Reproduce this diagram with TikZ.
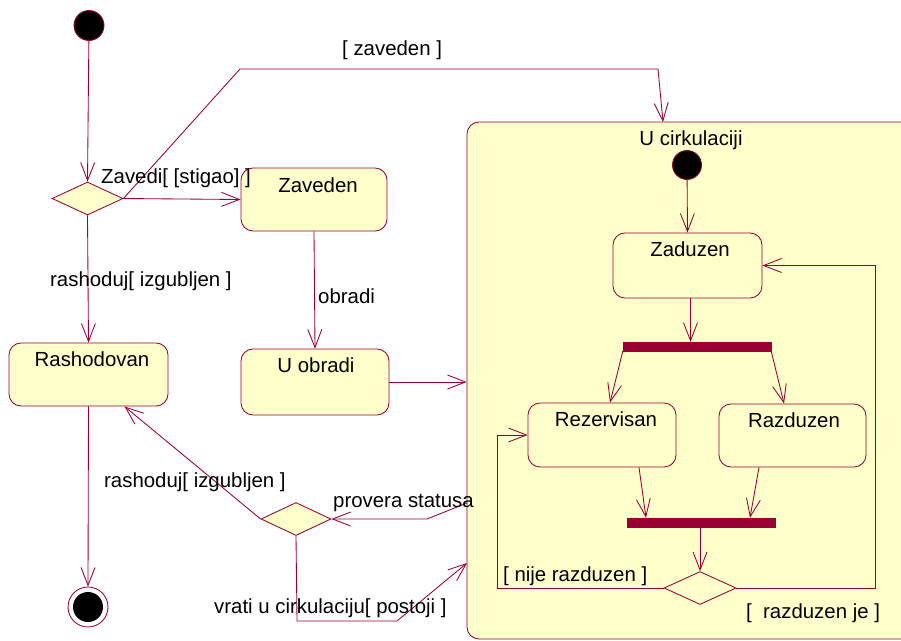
\documentclass[tikz,border=0pt]{standalone}
\usepackage{fontspec}
\setmainfont{Liberation Sans}
\usetikzlibrary{arrows.meta,shapes.geometric,calc}
\definecolor{umlred}{RGB}{153,0,51}
\definecolor{umlfill}{RGB}{255,255,204}
\newcommand{\umlfont}{\fontsize{20.4}{23}\selectfont}
\tikzset{
  uml/.style={draw=umlred, line width=0.85pt},
  statebox/.style={uml, fill=umlfill, rounded corners=12pt, inner sep=0pt},
  choice/.style={uml, fill=umlfill, diamond, inner sep=0pt, minimum width=71pt, minimum height=33pt},
  bar/.style={fill=umlred, draw=umlred, inner sep=0pt, minimum width=148pt, minimum height=9pt},
  startdot/.style={uml, fill=black, circle, inner sep=0pt, minimum size=30pt},
  flow/.style={uml, -{Straight Barb[length=18pt,width=14pt]}},
  ttl/.style={inner sep=0pt, anchor=base, font=\umlfont},
  lbl/.style={inner sep=0pt, anchor=base west, font=\umlfont},
}
\begin{document}
\begin{tikzpicture}[x=1pt,y=-1pt]
\useasboundingbox (0,0) rectangle (901,640);
\clip (0,0) rectangle (901,640);

% composite state
\node[statebox, minimum width=448pt, minimum height=517pt] (circ) at (691,380.5) {};
\node[ttl] (circT) at (691,145) {U cirkulaciji};

% outer states
\node[startdot] (start) at (89,25.5) {};
\node[choice] (d1) at (87.5,198.5) {};
\node[statebox, minimum width=146pt, minimum height=63pt] (zaveden) at (314,199.5) {};
\node[ttl] (zavedenT) at (318,192) {Zaveden};
\node[statebox, minimum width=148pt, minimum height=66pt] (uobradi) at (315,382) {};
\node[ttl] (uobradiT) at (316,372) {U obradi};
\node[statebox, minimum width=159pt, minimum height=63pt] (rashod) at (88.5,374.5) {};
\node[ttl] (rashodT) at (92,366) {Rashodovan};
\node[choice, minimum width=70pt] (d3) at (296,519) {};
\node[uml, circle, inner sep=0pt, minimum size=40pt, fill=white] (end) at (88,607) {};
\node[fill=black, circle, inner sep=0pt, minimum size=30pt] (endIn) at (88,607) {};

% inner states
\node[startdot, minimum size=29pt] (istart) at (687,165) {};
\node[statebox, minimum width=149pt, minimum height=65pt] (zaduzen) at (687.5,265.5) {};
\node[ttl] (zaduzenT) at (690,256) {Zaduzen};
\node[bar] (fork) at (697,346.5) {};
\node[statebox, minimum width=148pt, minimum height=64pt] (rezerv) at (602,435) {};
\node[ttl] (rezervT) at (606,426) {Rezervisan};
\node[statebox, minimum width=147pt, minimum height=63pt] (razduz) at (792.5,435.5) {};
\node[ttl] (razduzT) at (794,427) {Razduzen};
\node[bar] (join) at (701,522.5) {};
\node[choice, minimum width=72pt] (d2) at (700,588) {};

% bend points
\coordinate (zvA) at (240,69);
\coordinate (zvB) at (658,69);
\coordinate (zvC) at (663,122);
\coordinate (psA) at (467,503);
\coordinate (psB) at (427,519);
\coordinate (vrA) at (297,621);
\coordinate (vrB) at (397,621);
\coordinate (vrC) at (467,563);
\coordinate (njA) at (497,588);
\coordinate (njB) at (497,435);
\coordinate (rjA) at (875,588);
\coordinate (rjB) at (875,265.5);

% transitions
\draw[flow] (start) -- (d1.north);
\draw[flow] (d1.east) -- (zaveden.west);
\draw[flow] (d1.east) -- (zvA) -- (zvB) -- (zvC);
\draw[flow] (d1.south) -- (rashod.north);
\draw[flow] (zaveden.south) -- (uobradi.north);
\draw[flow] (uobradi.east) -- (uobradi.east -| circ.west);
\draw[flow] (rashod.south) -- (end.north);
\draw[flow] (psA) -- (psB) -- (d3.east);
\draw[flow] (d3.west) -- ([xshift=36pt]rashod.south);
\draw[flow] (d3.south) -- (vrA) -- (vrB) -- (vrC);

\draw[flow] (istart) -- (zaduzen.north);
\draw[flow] ([xshift=3pt]zaduzen.south) -- ([xshift=3pt]zaduzen.south |- fork.north);
\draw[flow] (fork.south west) -- ([xshift=8pt]rezerv.north);
\draw[flow] (fork.south east) -- ([xshift=-8.5pt]razduz.north);
\draw[flow] ([xshift=37pt]rezerv.south) -- ([xshift=-55pt]join.north);
\draw[flow] ([xshift=-33.5pt]razduz.south) -- ([xshift=49pt]join.north);
\draw[flow] ([xshift=-1pt]join.south) -- (d2.north);
\draw[flow] (d2.west) -- (njA) -- (njB) -- (rezerv.west);
\draw[flow] (d2.east) -- (rjA) -- (rjB) -- (zaduzen.east);

% transition labels
\node[lbl] (lZavedi) at (101,183) {Zavedi[ [stigao] ]};
\node[lbl] (lZaveden) at (342,55) {[ zaveden ]};
\node[lbl] (lRash1) at (50,286) {rashoduj[ izgubljen ]};
\node[lbl] (lObradi) at (318,303) {obradi};
\node[lbl] (lRash2) at (104,487) {rashoduj[ izgubljen ]};
\node[lbl] (lProvera) at (333,507) {provera statusa};
\node[lbl] (lVrati) at (214,613) {vrati u cirkulaciju[ postoji ]};
\node[lbl] (lNije) at (503,581) {[ nije razduzen ]};
\node[lbl] (lJe) at (746,618) {[\ \ razduzen je ]};
\end{tikzpicture}
\end{document}
